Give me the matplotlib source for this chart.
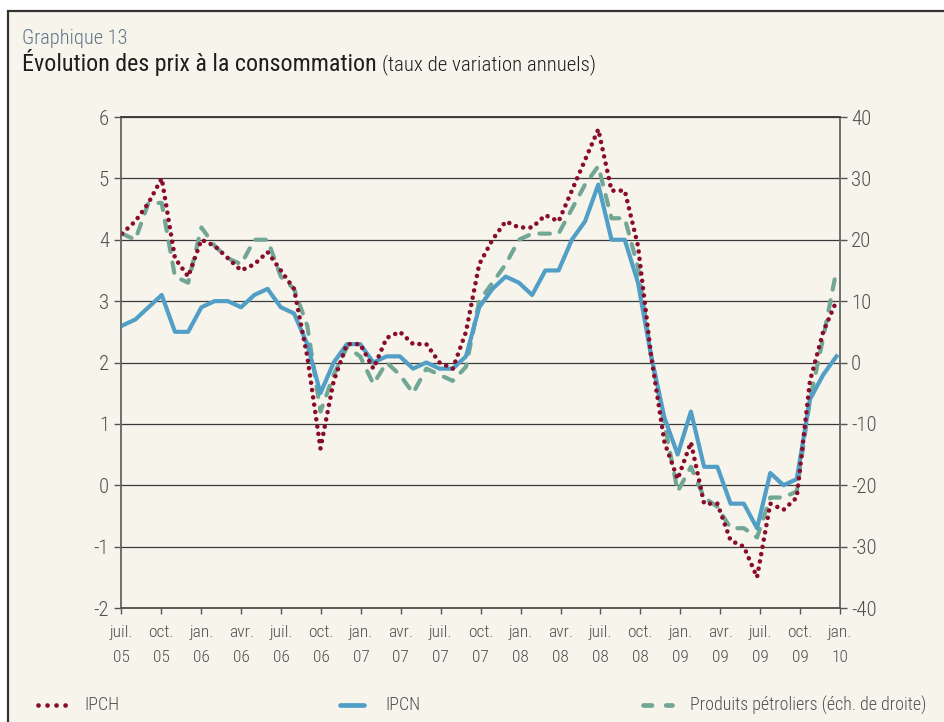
import numpy as np
import matplotlib
matplotlib.use("Agg")
import matplotlib.pyplot as plt
from matplotlib import font_manager
from matplotlib.lines import Line2D
from matplotlib.patches import Rectangle

# monthly annual rates of change, juil. 2005 -> jan. 2010
ipch = [4.1, 4.3, 4.6, 5.0, 3.7, 3.4, 4.0, 3.9, 3.7, 3.5, 3.6, 3.8, 3.5, 3.2, 2.1,
        0.6, 1.7, 2.3, 2.3, 1.9, 2.4, 2.5, 2.3, 2.3, 2.0, 1.9, 2.5, 3.6, 4.0, 4.3,
        4.2, 4.2, 4.4, 4.3, 4.8, 5.3, 5.8, 4.8, 4.8, 3.9, 2.1, 0.7, 0.1, 0.7, -0.3,
        -0.3, -0.9, -1.0, -1.5, -0.3, -0.4, -0.2, 1.7, 2.5, 3.0]
ipcn = [2.6, 2.7, 2.9, 3.1, 2.5, 2.5, 2.9, 3.0, 3.0, 2.9, 3.1, 3.2, 2.9, 2.8, 2.3,
        1.5, 2.0, 2.3, 2.3, 2.0, 2.1, 2.1, 1.9, 2.0, 1.9, 1.9, 2.1, 2.9, 3.2, 3.4,
        3.3, 3.1, 3.5, 3.5, 4.0, 4.3, 4.9, 4.0, 4.0, 3.3, 2.1, 1.1, 0.5, 1.2, 0.3,
        0.3, -0.3, -0.3, -0.7, 0.2, 0.0, 0.1, 1.4, 1.8, 2.1]
# right-hand scale
petrole = [21, 20, 26, 26, 14, 13, 22, 19, 17, 16, 20, 20, 14, 12, 6,
           -8, -2, 2.5, 1, -3.5, 0, -2, -5, -1, -2, -3, -0.7, 10, 13, 16,
           20, 21, 21, 21, 25, 29, 32, 23.5, 23.5, 15.5, 1, -10, -21, -17, -22,
           -23.5, -27, -27, -28.5, -22, -22, -21, -6, 4, 15]
tick_labels = ["juil.\n05", "oct.\n05", "jan.\n06", "avr.\n06", "juil.\n06",
               "oct.\n06", "jan.\n07", "avr.\n07", "juil.\n07", "oct.\n07",
               "jan.\n08", "avr.\n08", "juil.\n08", "oct.\n08", "jan.\n09",
               "avr.\n09", "juil.\n09", "oct.\n09", "jan.\n10"]
left_ticks = list(range(-2, 7))
right_ticks = list(range(-40, 41, 10))

RED = "#8a0c2c"
BLUE = "#519fc6"
GREEN = "#72a796"
BG = "#f7f4ec"
INK = "#1e1e1e"
GREY = "#505050"

installed = {f.name for f in font_manager.fontManager.ttflist}
FONT = next((f for f in ["Roboto Condensed", "Liberation Sans Narrow",
                         "Open Sans Condensed"] if f in installed), "Liberation Sans")
plt.rcParams["font.family"] = [FONT, "DejaVu Sans"]
plt.rcParams["axes.unicode_minus"] = False
plt.rcParams["font.weight"] = "light"

W, H = 944, 722
fig = plt.figure(figsize=(W / 100, H / 100), dpi=100, facecolor="white")
fig.patches.append(Rectangle((8 / W, -0.1), 1.1, 0.1 + (H - 11) / H,
                             transform=fig.transFigure, facecolor=BG,
                             edgecolor="#333333", linewidth=1.6, zorder=-10))

x = np.arange(len(ipch))
x_lo, x_hi = -0.04, 54.27

ax = fig.add_axes([121.5 / W, (H - 608) / H, (840 - 121.5) / W, (608 - 117) / H])
ax2 = ax.twinx()
ax.set_zorder(ax2.get_zorder() + 1)
ax.set_facecolor("none")
ax2.set_facecolor("none")

ax2.plot(x, petrole, color=GREEN, lw=3, linestyle=(0, (2.5, 2.6)),
         dash_capstyle="round")
ax.plot(x, ipcn, color=BLUE, lw=3)
ax.plot(x, ipch, color=RED, lw=3.3, linestyle=(0, (0.01, 1.6)),
        dash_capstyle="round")

ax.set_xlim(x_lo, x_hi)
ax.set_ylim(-2, 6)
ax2.set_ylim(-40, 40)
ax.set_yticks(left_ticks)
ax2.set_yticks(right_ticks)
ax2.yaxis.grid(True, color="#3a3a3a", lw=0.9)
ax.set_xticks(np.linspace(x_lo, x_hi, 19))
ax.set_xticklabels(tick_labels, linespacing=1.9)

for a in (ax, ax2):
    for s in a.spines.values():
        s.set_color("#6a6a6a")
        s.set_linewidth(1.1)
    a.spines["top"].set_color("#3a3a3a")
    a.spines["bottom"].set_color("#555555")
ax.tick_params(axis="y", direction="out", length=5, width=1, color="#555555",
               labelsize=15, labelcolor=GREY, pad=4)
ax2.tick_params(axis="y", direction="out", length=5, width=1, color="#555555",
                labelsize=15, labelcolor=GREY, pad=3)
ax.tick_params(axis="x", direction="out", length=4, width=1, color="#555555",
               labelsize=12.5, labelcolor=GREY, pad=8)

# titles
fig.text(22 / W, (H - 38) / H, "Graphique 13", color="#5f7487", fontsize=14.7,
         va="center")
t = fig.text(22 / W, (H - 62) / H, "Évolution des prix à la consommation",
             color=INK, fontsize=17.3, va="center", fontweight="normal")
ax.annotate("(taux de variation annuels)", xy=(1, 0), xycoords=t,
            xytext=(4, 0.5), textcoords="offset points", fontsize=15,
            color=INK, va="bottom", annotation_clip=False)

# legend along the bottom
ly = 17 / H
legend = [
    (38, 68, RED, dict(lw=3.4, linestyle=(0, (0.01, 1.9)), dash_capstyle="round"), 84, "IPCH"),
    (340, 364, BLUE, dict(lw=3.4, solid_capstyle="round"), 385, "IPCN"),
    (643, 672, GREEN, dict(lw=3.4, linestyle=(0, (1.8, 3.0)), dash_capstyle="round"), 690,
     "Produits pétroliers (éch. de droite)"),
]
for x0, x1, col, style, tx, label in legend:
    fig.add_artist(Line2D([x0 / W, x1 / W], [ly, ly], transform=fig.transFigure,
                          color=col, **style))
    fig.text(tx / W, ly, label, fontsize=12.9, color=GREY, va="center")

fig.savefig("out.png", dpi=100, facecolor=fig.get_facecolor())
